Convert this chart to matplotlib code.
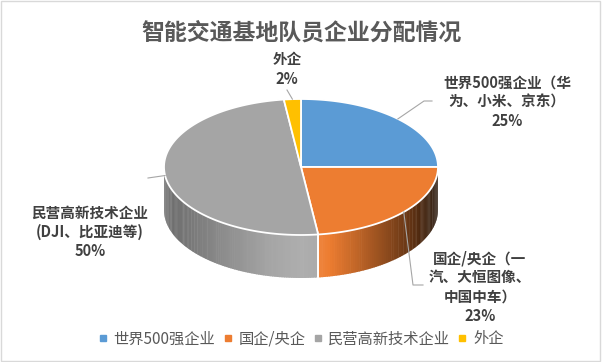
import numpy as np
import matplotlib
matplotlib.use('Agg')
import matplotlib.pyplot as plt
from matplotlib.patches import Polygon, Rectangle
from matplotlib.lines import Line2D
import matplotlib.colors as mcolors

plt.rcParams['font.family'] = ['Noto Sans CJK SC', 'DejaVu Sans']

# ---------------- data ----------------
title = '智能交通基地队员企业分配情况'
categories = ['世界500强企业', '国企/央企', '民营高新技术企业', '外企']
values = [25, 23, 50, 2]
label_names = ['世界500强企业（华\n为、小米、京东）', '国企/央企（一\n汽、大恒图像、\n中国中车）',
               '民营高新技术企业\n(DJI、比亚迪等)', '外企']
colors = ['#5B9BD5', '#ED7D31', '#A5A5A5', '#FFC000']

# ---------------- layout ----------------
W, H = 602, 362
fig = plt.figure(figsize=(W / 100, H / 100), dpi=100)
ax = fig.add_axes([0, 0, 1, 1])
ax.set_xlim(0, W)
ax.set_ylim(H, 0)
ax.axis('off')

cx, cy, rx, ry, depth = 301, 167, 137, 68, 43


def pt(theta_deg, dy=0.0):
    t = np.radians(theta_deg)
    return cx + rx * np.sin(t), cy - ry * np.cos(t) + dy


def shade(c, u):
    f = np.interp(u, [-1, -0.5, 0.0, 0.15, 0.4, 0.6, 0.8, 1.0],
                  [0.64, 0.88, 1.1, 1.05, 0.82, 0.62, 0.42, 0.15])
    rgb = np.array(mcolors.to_rgb(c))
    if f <= 1:
        return tuple(rgb * f)
    return tuple(rgb + (1 - rgb) * (f - 1))


total = sum(values)
angles = np.concatenate([[0], np.cumsum(values) / total * 360])

# side walls (front half only: 90..270 deg clockwise from top)
for i, c in enumerate(colors):
    a0, a1 = max(angles[i], 90), min(angles[i + 1], 270)
    if a1 <= a0:
        continue
    n = max(int((a1 - a0) / 1.0), 1)
    edges = np.linspace(a0, a1, n + 1)
    for s, e in zip(edges[:-1], edges[1:]):
        ts = np.linspace(s, e + 0.3 if e < a1 else e, 3)
        top = [pt(t) for t in ts]
        bot = [pt(t, depth) for t in ts[::-1]]
        u = np.sin(np.radians((s + e) / 2))
        ax.add_patch(Polygon(top + bot, closed=True, facecolor=shade(c, u),
                             edgecolor='none', zorder=2))
    # white boundary line on side
    for b in (a0, a1):
        if 90 < b < 270:
            x0, y0 = pt(b)
            x1, y1 = pt(b, depth)
            ax.plot([x0, x1], [y0, y1], color='white', lw=1.2, zorder=3)

# top face
for i, c in enumerate(colors):
    ts = np.linspace(angles[i], angles[i + 1], 100)
    poly = [(cx, cy)] + [pt(t) for t in ts]
    ax.add_patch(Polygon(poly, closed=True, facecolor=c, edgecolor='white',
                         lw=1.3, joinstyle='round', zorder=4))

# labels
lab_color = '#404040'
lead_color = '#A6A6A6'
label_pos = [(507, 102), (480, 287), (90, 232), (287, 69)]
lead_ends = [[(424, 101), (432, 101)], [(413, 285), (423, 285)], [(148, 178)], [(287, 90)]]
for i in range(len(values)):
    pct = f'{values[i] / total * 100:.0f}%'
    ax.text(*label_pos[i], label_names[i] + '\n' + pct, ha='center', va='center',
            fontsize=10.5, fontweight='bold', color=lab_color, linespacing=1.25, zorder=6)
    mid = (angles[i] + angles[i + 1]) / 2
    p = [pt(mid)] + lead_ends[i]
    ax.plot([q[0] for q in p], [q[1] for q in p], color=lead_color, lw=0.8, zorder=5)

# title
ax.text(W / 2, 33, title, ha='center', va='center', fontsize=16.5,
        fontweight='bold', color='#595959')

# legend
handles = [Line2D([], [], marker='s', linestyle='none', markersize=5,
                  markerfacecolor=c, markeredgecolor=c) for c in colors]
fig.legend(handles, categories, loc='center', bbox_to_anchor=(0.5, 1 - 339 / H),
           ncol=4, frameon=False, fontsize=11, handlelength=0.6,
           handletextpad=0.4, columnspacing=0.5, labelcolor='#595959')

# chart border
fig.patches.append(Rectangle((0.002, 0.003), 0.995, 0.993, transform=fig.transFigure,
                             fill=False, edgecolor='#D9D9D9', lw=1))

fig.savefig('out.png', dpi=100)
